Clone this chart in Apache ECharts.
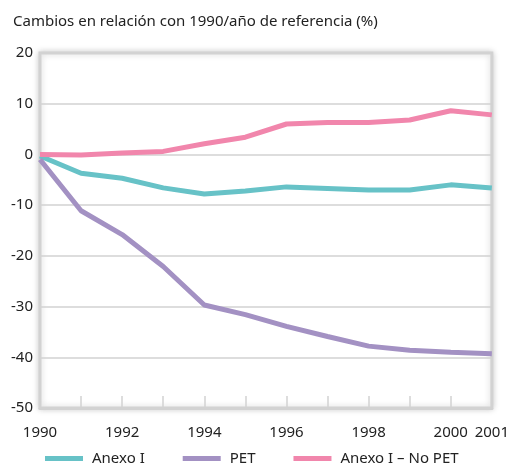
<!DOCTYPE html>
<html>
<head>
<meta charset="utf-8">
<script src="https://cdn.jsdelivr.net/npm/echarts@6/dist/echarts.min.js"></script>
<style>
  html, body { margin: 0; padding: 0; background: #fff; }
  #chart { width: 512px; height: 464px; }
</style>
</head>
<body>
<div id="chart"></div>
<script>
// años del eje x
const years = ['1990', '1991', '1992', '1993', '1994', '1995', '1996', '1997', '1998', '1999', '2000', '2001'];

// series (% respecto a 1990 / año de referencia)
const anexoI = [-0.3, -3.7, -4.7, -6.6, -7.8, -7.2, -6.4, -6.7, -7.0, -7.0, -6.0, -6.6];
const pet = [-1.0, -11.1, -15.8, -22.1, -29.7, -31.6, -33.9, -35.9, -37.8, -38.6, -39.0, -39.3];
const anexoINoPet = [0, -0.1, 0.3, 0.6, 2.1, 3.4, 6.0, 6.3, 6.3, 6.8, 8.6, 7.8];

const seriesNames = ['Anexo I', 'PET', 'Anexo I – No PET'];
const colors = ['#67c2c7', '#a391c3', '#f186ac'];

const font = 'Noto Sans';

const chart = echarts.init(document.getElementById('chart'), null, { renderer: 'canvas' });

function line(name, data, color) {
  return {
    name: name,
    type: 'line',
    data: data,
    symbol: 'none',
    smooth: false,
    lineStyle: { color: color, width: 5 },
    itemStyle: { color: color }
  };
}

let option = {
  animation: false,
  backgroundColor: '#fff',
  title: {
    text: 'Cambios en relación con 1990/año de referencia (%)',
    left: 8,
    top: 9,
    textStyle: { fontFamily: font, fontSize: 15, fontWeight: 'normal', color: '#222' }
  },
  grid: {
    show: true,
    left: 40,
    right: 20,
    top: 53,
    bottom: 56,
    backgroundColor: '#fff',
    borderColor: '#d2d2d2',
    borderWidth: 3,
    shadowColor: 'rgba(0,0,0,0.18)',
    shadowBlur: 6
  },
  legend: {
    data: seriesNames,
    left: 40,
    top: 446,
    icon: 'rect',
    itemWidth: 38,
    itemHeight: 5,
    itemGap: 38,
    textStyle: { fontFamily: font, fontSize: 15, color: '#222', padding: [0, 0, 0, 4] }
  },
  xAxis: {
    type: 'category',
    data: years,
    boundaryGap: false,
    axisLine: { show: true, onZero: false, lineStyle: { color: '#d2d2d2', width: 3 } },
    axisTick: { show: true, inside: true, interval: 0, length: 12, lineStyle: { color: '#d2d2d2', width: 1.5 } },
    axisLabel: {
      fontFamily: font,
      fontSize: 15,
      color: '#222',
      margin: 17,
      interval: function (index) {
        return index % 2 === 0 || index === years.length - 1;
      }
    },
    splitLine: { show: false }
  },
  yAxis: {
    type: 'value',
    min: -50,
    max: 20,
    interval: 10,
    axisLine: { show: false },
    axisTick: { show: false },
    axisLabel: { fontFamily: font, fontSize: 15, color: '#222', margin: 7 },
    splitLine: { show: true, lineStyle: { color: '#d2d2d2', width: 1.5 } }
  },
  series: [
    line(seriesNames[0], anexoI, colors[0]),
    line(seriesNames[1], pet, colors[1]),
    line(seriesNames[2], anexoINoPet, colors[2])
  ]
};

chart.setOption(option);
</script>
</body>
</html>
